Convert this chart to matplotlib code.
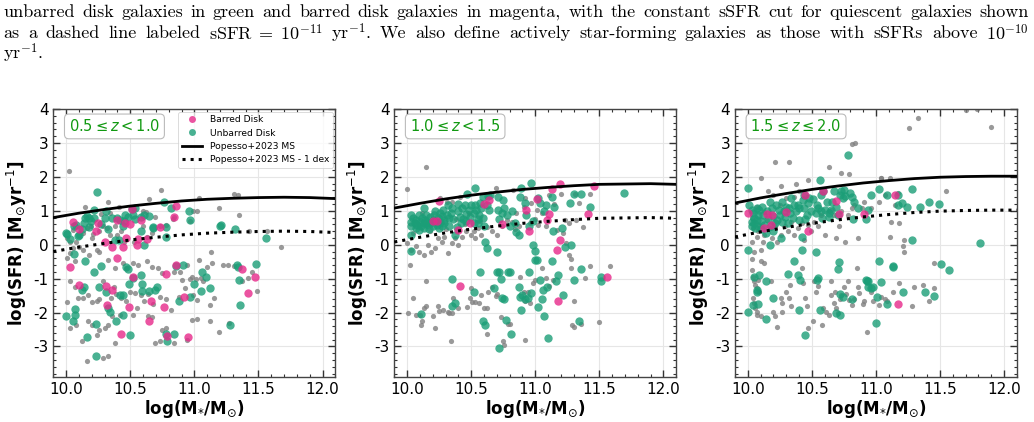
"""
Three-panel SFR vs stellar mass figure (barred / unbarred disks) with the
caption lines that sit above it in the paper.
"""

import matplotlib as mpl

mpl.use("Agg")

import matplotlib.pyplot as plt
from matplotlib.lines import Line2D
from matplotlib.ticker import MultipleLocator

# --- main-sequence curves (Popesso+2023) ----------------------------------
MS_MASS = [9.9, 10.1, 10.3, 10.5, 10.7, 10.9, 11.1, 11.3, 11.5, 11.7, 11.9, 12.1]
P1_MS = [0.80, 0.93, 1.04, 1.14, 1.22, 1.29, 1.34, 1.37, 1.39, 1.40, 1.39, 1.36]
P2_MS = [1.08, 1.22, 1.35, 1.46, 1.55, 1.63, 1.69, 1.74, 1.78, 1.79, 1.80, 1.78]
P3_MS = [1.23, 1.38, 1.51, 1.63, 1.73, 1.82, 1.89, 1.95, 1.99, 2.01, 2.02, 2.02]
MS_OFFSET = 1.0  # "MS - 1 dex"

Z_LABELS = [r"$0.5 \leq z < 1.0$", r"$1.0 \leq z < 1.5$", r"$1.5 \leq z \leq 2.0$"]

# --- panel 1: 0.5 <= z < 1.0 (log M*, log SFR) ----------------------------
P1_BAR = [
    (10.05, 0.66), (10.03, -0.67), (10.10, -1.18), (10.10, 0.45), (10.23, 0.40),
    (10.25, 0.63), (10.30, 0.08), (10.31, -1.23), (10.32, -1.77), (10.36, -0.08),
    (10.36, -1.33), (10.40, -0.38), (10.40, 0.73), (10.44, -0.06), (10.46, 0.63),
    (10.47, 0.21), (10.50, 0.60), (10.51, 1.05), (10.49, -1.85), (10.52, -0.94),
    (10.56, 0.16), (10.58, 0.73), (10.63, 0.16), (10.66, -1.65), (10.65, -2.26),
    (10.73, 0.53), (10.76, -1.85), (10.78, -0.87), (10.79, -2.70), (10.84, 0.82),
    (10.86, 1.14), (10.86, -0.61), (10.92, -1.55), (10.95, -2.73), (11.37, -0.72),
    (11.42, -1.41), (11.47, -0.94), (10.43, -2.63), (10.55, 0.00),
]
P1_UNB = [
    (10.24, 1.55), (10.00, 0.36), (10.01, 0.31), (10.03, 0.17), (10.06, 0.54),
    (10.08, 0.58), (10.09, 0.25), (10.10, 0.30), (10.12, 0.45), (10.14, 0.63),
    (10.15, 0.78), (10.16, 0.86), (10.18, 0.78), (10.18, 0.51), (10.19, 0.70),
    (10.22, 0.80), (10.22, 1.03), (10.27, 0.62), (10.30, 0.80), (10.31, 1.00),
    (10.33, 0.45), (10.36, 0.78), (10.38, 0.15), (10.40, 0.78), (10.41, 0.14),
    (10.42, 0.73), (10.44, 0.56), (10.45, 0.70), (10.46, 0.88), (10.48, 0.83),
    (10.51, 1.05), (10.52, 0.88), (10.54, 0.76), (10.54, 1.08), (10.58, 0.83),
    (10.58, 0.39), (10.61, 0.88), (10.61, -0.02), (10.65, 0.86), (10.68, 0.49),
    (10.68, 0.51), (10.76, 1.27), (10.78, 0.51), (10.78, 0.24), (10.82, 1.08),
    (10.96, 0.98), (10.97, 0.73), (11.20, 0.54), (11.21, 0.57), (11.32, 0.46),
    (11.56, 0.19), (10.06, -0.28), (10.15, -0.47),
    (10.00, -2.11), (10.05, -2.26), (10.07, -2.06), (10.07, -1.90), (10.12, -1.33),
    (10.14, -1.26), (10.16, -2.73), (10.22, -0.79), (10.23, -2.34), (10.23, -3.29),
    (10.26, -1.25), (10.27, -0.64), (10.31, -1.38), (10.33, -1.87), (10.34, -1.97),
    (10.39, -2.24), (10.42, -1.48), (10.44, -1.48), (10.44, -2.07), (10.47, -0.67),
    (10.48, -0.71), (10.49, -1.16), (10.50, -2.65), (10.52, -0.98), (10.58, -0.89),
    (10.59, -1.16), (10.59, -1.36), (10.65, -1.36), (10.69, -1.33), (10.71, -1.26),
    (10.78, -2.63), (10.79, -2.85), (10.84, -2.63), (10.86, -0.64), (10.91, -0.61),
    (10.88, -1.67), (10.97, -1.55), (11.00, -1.16), (11.05, -1.36), (11.06, -0.79),
    (11.09, -0.96), (11.12, -1.28), (11.28, -2.36), (11.33, -0.61), (11.34, -0.67),
    (11.35, -1.03), (11.36, -1.79), (11.48, -0.57),
]
P1_ALL = [
    (10.02, 2.17), (10.74, 1.62), (10.33, 1.25), (10.41, 1.12), (11.04, 1.37),
    (11.31, 1.49), (11.34, 1.47), (11.35, 0.88), (11.19, 1.08), (11.02, 0.98),
    (10.97, 0.70), (10.65, 1.35), (10.60, 1.00), (10.62, 0.96), (10.34, 0.93),
    (10.15, 1.12), (10.84, 0.83),
    (10.01, 0.21), (10.03, 0.09), (10.05, 0.44), (10.08, 0.09), (10.10, 0.29),
    (10.13, 0.36), (10.16, 0.49), (10.19, 0.54), (10.20, 0.19), (10.21, 0.31),
    (10.26, 0.39), (10.29, 0.54), (10.27, 0.90), (10.32, 0.49), (10.34, 0.29),
    (10.38, 0.54), (10.40, 0.29), (10.43, 0.39), (10.45, 0.09), (10.53, 0.09),
    (10.60, 0.54), (10.63, 0.24), (10.67, 0.34), (10.69, 0.83), (10.73, 0.54),
    (10.78, 0.58), (10.83, 0.76), (10.99, 0.98), (11.43, 0.41), (11.57, 0.39),
    (11.68, -0.07), (11.13, -0.20),
    (10.01, -0.40), (10.03, -0.25), (10.05, -0.10), (10.07, -0.47), (10.10, -0.08),
    (10.13, -0.15), (10.18, -0.30), (10.24, -0.15), (10.26, -0.20), (10.33, -0.45),
    (10.38, -0.69), (10.44, -0.54), (10.47, -0.69), (10.52, -0.54), (10.56, -0.59),
    (10.63, -0.49), (10.67, -0.67), (10.72, -0.69), (10.75, -0.84), (10.84, -0.79),
    (10.89, -0.79), (10.94, -0.59), (11.04, -0.45), (11.10, -0.67), (11.22, -0.59),
    (11.26, -0.59), (11.31, -0.64), (11.42, -0.97), (11.37, -1.08), (11.45, -0.79),
    (11.49, -1.36), (11.05, -0.99), (10.98, -0.94), (11.14, -0.54),
    (10.03, -1.08), (10.07, -1.26), (10.13, -1.57), (10.17, -1.48), (10.20, -1.69),
    (10.24, -1.65), (10.26, -1.59), (10.29, -1.08), (10.35, -1.57), (10.37, -1.26),
    (10.39, -1.46), (10.43, -1.57), (10.47, -1.65), (10.50, -1.38), (10.54, -1.43),
    (10.58, -1.48), (10.61, -1.67), (10.64, -1.46), (10.68, -1.75), (10.73, -1.53),
    (10.78, -1.59), (10.82, -1.92), (10.88, -1.53), (10.93, -1.28), (10.97, -1.00),
    (11.01, -1.00), (11.02, -1.62), (11.07, -1.08), (11.12, -1.77), (11.15, -1.57),
    (10.90, -1.03), (10.99, -1.48), (10.09, -1.57), (10.01, -1.69),
    (10.03, -2.46), (10.08, -2.36), (10.12, -2.85), (10.20, -2.36), (10.24, -2.65),
    (10.26, -2.51), (10.30, -2.46), (10.33, -2.36), (10.36, -2.11), (10.38, -2.90),
    (10.42, -2.06), (10.55, -1.87), (10.64, -2.11), (10.67, -2.14), (10.69, -2.90),
    (10.73, -2.85), (10.75, -2.51), (10.84, -2.90), (10.94, -2.80), (10.98, -2.21),
    (11.02, -2.18), (11.12, -2.26), (11.19, -2.56), (11.27, -2.31), (10.16, -3.44),
    (10.29, -3.34), (10.33, -3.29), (10.17, -2.26), (10.52, -2.06), (10.78, -2.46),
]

# --- panel 2: 1.0 <= z < 1.5 ----------------------------------------------
P2_BAR = [
    (10.25, 1.30), (10.23, 0.70), (10.20, 0.69), (10.40, 0.44), (10.49, 0.63),
    (10.60, 1.19), (10.64, 1.32), (10.74, 0.61), (10.93, 1.02), (10.95, 0.41),
    (11.01, 1.34), (11.09, 0.73), (11.11, 0.92), (11.13, 1.64), (11.19, 1.78),
    (11.19, 0.14), (11.17, -0.16), (11.41, 0.92), (11.46, 1.73), (10.41, -1.23),
    (11.18, -1.67), (11.56, -0.94),
]
P2_UNB = [
    (10.03, 0.88), (10.03, 0.68), (10.03, 0.54), (10.03, 0.29), (10.05, 0.78),
    (10.06, 0.63), (10.07, 0.49), (10.07, 0.73), (10.08, 0.58), (10.09, 0.88),
    (10.09, 0.44), (10.10, 0.68), (10.11, 0.54), (10.12, 0.78), (10.13, 0.63),
    (10.13, 1.08), (10.13, 0.49), (10.14, 0.73), (10.15, 0.88), (10.16, 0.58),
    (10.16, 0.68), (10.17, 0.47), (10.18, 0.83), (10.18, 0.63), (10.20, 0.73),
    (10.20, 0.54), (10.21, 0.88), (10.22, 0.68), (10.22, 0.98), (10.23, 0.58),
    (10.24, 0.78), (10.25, 0.49), (10.26, 0.93), (10.26, 0.68), (10.27, 0.86),
    (10.27, 0.54), (10.28, 1.03), (10.29, 0.73), (10.29, 0.63), (10.31, 0.88),
    (10.32, 1.17), (10.33, 0.78), (10.33, 0.56), (10.34, 0.93), (10.35, 1.08),
    (10.36, 0.76), (10.37, 0.29), (10.39, 0.51), (10.40, 0.98), (10.40, 1.19),
    (10.41, 0.83), (10.42, 0.63), (10.43, 1.08), (10.44, 0.76), (10.45, 1.17),
    (10.46, 0.90), (10.46, 0.70), (10.47, 1.49), (10.48, 1.03), (10.49, 0.83),
    (10.50, 1.17), (10.52, 0.63), (10.52, 0.93), (10.53, 1.17), (10.53, 1.66),
    (10.54, 1.03), (10.55, 0.76), (10.55, 0.63), (10.56, 0.88), (10.57, 1.22),
    (10.58, 1.08), (10.59, 1.42), (10.59, 0.80), (10.60, 0.56), (10.62, 1.17),
    (10.63, 1.45), (10.64, 1.03), (10.65, 1.47), (10.61, 0.09), (10.62, -0.10),
    (10.70, -0.20), (10.71, 1.42), (10.71, 1.03), (10.72, 0.76), (10.74, 0.93),
    (10.75, 1.32), (10.76, 1.08), (10.78, 0.88), (10.80, 0.54), (10.82, 0.98),
    (10.84, 0.63), (10.85, 0.37), (10.87, 0.29), (10.88, 1.42), (10.89, 1.66),
    (10.92, 1.22), (10.93, 0.88), (10.95, 0.54), (10.97, 1.81), (10.98, 0.70),
    (11.02, 1.37), (11.04, 1.22), (11.07, 0.98), (11.08, 1.17), (11.13, 1.42),
    (11.14, 0.39), (11.15, 1.12), (11.21, 0.49), (11.27, 1.22), (11.28, 0.00),
    (11.30, 1.49), (11.36, 1.50), (11.43, 1.10), (11.69, 1.52), (10.03, -0.18),
    (10.11, -2.05), (10.35, -1.01), (10.37, -1.72), (10.35, -1.82), (10.52, -1.38),
    (10.57, -0.79), (10.59, -2.26), (10.61, -2.36), (10.68, -1.28), (10.70, -0.79),
    (10.72, -0.81), (10.73, -1.00), (10.74, -1.56), (10.76, -1.59), (10.77, -2.21),
    (10.79, -0.79), (10.80, -0.81), (10.81, -2.63), (10.72, -3.03), (10.87, -1.26),
    (10.88, -1.53), (10.89, -1.92), (10.90, -1.48), (10.92, -1.59), (10.94, -1.57),
    (10.95, -0.81), (10.97, -1.43), (10.98, 0.00), (11.00, -0.18), (11.00, -0.45),
    (11.01, -0.45), (11.02, -1.85), (11.04, -1.03), (11.05, -1.59), (11.06, -1.33),
    (11.07, -2.11), (11.09, -1.26), (11.10, -2.75), (11.13, -0.49), (11.16, -1.08),
    (11.18, -0.89), (11.22, -1.48), (11.23, -0.08), (11.30, -1.03), (11.34, -2.26),
    (11.36, -0.71), (11.51, -0.94), (11.51, -1.06),
]
P2_ALL = [
    (10.15, 2.30), (10.00, 1.64), (10.02, -0.61), (10.05, -1.57), (10.01, -2.00),
    (10.07, -2.06), (10.10, -2.06), (10.12, -2.26), (10.11, -2.36), (10.13, -1.87),
    (10.15, -1.82), (10.20, -2.11), (10.22, -2.46), (10.24, -1.82), (10.25, -1.95),
    (10.28, -1.92), (10.32, -1.97), (10.33, -2.02), (10.34, -2.83), (10.35, -2.02),
    (10.36, -1.56), (10.40, -1.87), (10.47, -1.85), (10.49, -1.57), (10.50, -1.28),
    (10.51, -1.69), (10.53, -1.69), (10.56, -1.72), (10.58, -1.48), (10.60, -1.87),
    (10.62, -1.87), (10.62, -2.63), (10.63, -1.38), (10.66, -1.26), (10.69, -1.50),
    (10.70, -1.46), (10.73, -2.14), (10.75, -2.83), (10.76, -2.95), (10.79, -2.34),
    (10.80, -2.34), (10.88, -0.94), (10.91, -1.38), (10.92, -1.65), (10.92, -2.80),
    (10.94, -1.38), (10.96, -1.72), (10.98, -1.13), (11.00, -1.03), (11.05, -0.69),
    (11.08, -0.97), (11.11, -1.23), (11.14, -1.03), (11.22, 0.34), (11.24, 0.04),
    (11.26, -0.30), (11.28, -0.42), (11.28, -0.69), (11.30, -1.67), (11.29, -2.36),
    (11.30, -2.44), (11.36, -2.34), (11.39, -0.99), (11.43, -0.62), (11.50, -2.28),
    (11.58, -0.64), (10.15, -1.06),
    (10.00, 0.04), (10.03, -0.15), (10.07, -0.05), (10.09, -0.20), (10.13, -0.30),
    (10.16, 0.00), (10.19, -0.20), (10.22, -0.10), (10.24, 0.19), (10.27, 0.09),
    (10.29, 0.24), (10.32, -0.25), (10.35, 0.04), (10.37, 0.19), (10.40, 0.00),
    (10.43, 0.24), (10.46, 0.39), (10.50, 0.29), (10.53, 0.19), (10.55, 0.49),
    (10.58, 0.29), (10.62, 0.51), (10.66, 0.39), (10.70, 0.29), (10.74, 0.56),
    (10.78, 0.73), (10.82, 0.68), (10.84, 0.47), (10.87, 0.54), (10.91, 1.12),
    (10.92, 1.37), (10.97, 1.22), (11.01, 1.03), (11.05, 0.93), (11.08, 0.54),
    (11.11, 1.47), (11.15, 1.20), (11.17, 0.44), (11.20, 1.49), (11.23, 0.73),
    (11.26, 0.63), (11.31, 1.49), (11.32, 0.73), (11.34, 1.22), (11.37, 0.51),
    (11.43, 1.49), (10.26, 1.37), (10.35, 1.25), (10.41, 1.42), (10.31, 1.27),
    (10.96, 0.63), (11.00, 0.76), (11.02, 0.58), (10.83, 1.62), (10.85, 0.93),
    (10.69, 1.68), (10.05, 0.35), (10.12, 0.95), (10.18, 0.40), (10.25, 0.70),
    (10.30, 0.45), (10.38, 0.75), (10.45, 0.60), (10.48, 0.95), (10.52, 0.40),
    (10.57, 0.70),
]

# --- panel 3: 1.5 <= z <= 2.0 ---------------------------------------------
P3_BAR = [
    (10.00, 0.95), (10.15, 0.90), (10.13, 0.49), (10.18, 0.58), (10.19, 0.88),
    (10.30, 0.96), (10.47, 0.41), (10.45, 1.46), (10.59, 1.58), (10.69, 1.29),
    (10.71, 0.92), (10.91, 0.91), (11.15, 1.46), (11.17, -1.75),
]
P3_UNB = [
    (10.00, 1.68), (10.00, -0.15), (10.00, -1.97), (10.01, 1.17), (10.03, 1.03),
    (10.03, 0.68), (10.03, 0.54), (10.04, 0.93), (10.05, 0.78), (10.05, 0.63),
    (10.06, 0.49), (10.07, 1.08), (10.07, 0.73), (10.08, 0.88), (10.08, 0.56),
    (10.09, 1.03), (10.10, 0.70), (10.10, 0.47), (10.11, 1.12), (10.12, 0.88),
    (10.13, 0.58), (10.14, 0.34), (10.15, 0.98), (10.16, 0.76), (10.17, 1.27),
    (10.18, 0.54), (10.19, 1.08), (10.20, 0.39), (10.20, 0.86), (10.21, 0.63),
    (10.22, 1.17), (10.23, 0.73), (10.24, 1.03), (10.25, 0.88), (10.26, 0.19),
    (10.27, 0.68), (10.27, 1.27), (10.28, 0.98), (10.29, 0.83), (10.30, 1.12),
    (10.31, 0.63), (10.32, 1.08), (10.33, 0.93), (10.34, 1.37), (10.35, 0.78),
    (10.36, 1.17), (10.38, 0.98), (10.39, 1.17), (10.40, 0.73), (10.40, 1.08),
    (10.42, 0.24), (10.43, 1.32), (10.44, 1.08), (10.44, 1.47), (10.45, 0.76),
    (10.46, 0.88), (10.47, 1.22), (10.48, 1.37), (10.49, 1.00), (10.51, 1.35),
    (10.53, 0.93), (10.54, 1.17), (10.55, 1.08), (10.56, 1.91), (10.57, 1.47),
    (10.57, 0.98), (10.58, 0.78), (10.59, 1.57), (10.60, 1.03), (10.62, 1.27),
    (10.63, 0.93), (10.63, 0.83), (10.65, 1.03), (10.66, 1.27), (10.67, 1.57),
    (10.69, 1.12), (10.70, 0.88), (10.72, 1.47), (10.73, 1.59), (10.74, 1.37),
    (10.75, 1.62), (10.76, 1.45), (10.78, 2.65), (10.80, 1.52), (10.81, 1.42),
    (10.82, 0.76), (10.83, 1.27), (10.86, 1.08), (10.94, 1.03), (10.92, 0.76),
    (10.96, 1.47), (11.02, 1.64), (11.09, 1.47), (11.17, 1.47), (11.17, 1.17),
    (11.20, 1.22), (11.24, 1.12), (11.28, 1.64), (11.28, 0.14), (11.34, 1.12),
    (11.41, 1.25), (11.49, 1.19), (11.81, 0.04), (11.57, -0.74), (11.51, -0.57),
    (10.04, -1.77), (10.05, -0.94), (10.07, -1.33), (10.07, -1.40), (10.08, -1.75),
    (10.09, -0.89), (10.14, -2.18), (10.14, -1.06), (10.20, -1.57), (10.17, 0.00),
    (10.31, -0.87), (10.36, -0.48), (10.39, -0.89), (10.40, -1.92), (10.41, -1.04),
    (10.45, -2.65), (10.42, -0.16), (10.53, -0.20), (10.55, -0.99), (10.56, -1.92),
    (10.54, -1.04), (10.70, -0.71), (10.71, -0.51), (10.72, -1.46), (10.69, -2.02),
    (10.72, -2.06), (10.74, -1.53), (10.81, -1.59), (10.92, -1.03), (10.93, -1.06),
    (10.94, -1.26), (10.94, -1.08), (10.96, -1.28), (10.98, -1.26), (11.00, -2.31),
    (11.01, -1.53), (11.02, -0.49), (11.04, -1.10), (11.09, -1.75), (11.13, -0.63),
    (11.13, -0.66), (11.21, -1.38), (11.38, -1.40), (11.45, -1.51),
]
P3_ALL = [
    (11.70, 3.97), (11.79, 3.99), (11.33, 3.74), (11.26, 3.45), (11.90, 3.48),
    (10.65, 3.38), (10.32, 3.23), (10.81, 2.96), (10.84, 3.00), (10.21, 2.43),
    (10.32, 2.43), (10.63, 2.30), (10.73, 2.10), (10.79, 2.08), (10.10, 1.96),
    (11.04, 1.97), (10.26, 1.74), (10.38, 1.78), (10.16, 1.59), (10.47, 1.90),
    (11.55, 1.59), (11.11, 1.96), (11.04, 1.96),
    (10.03, 0.09), (10.04, 0.49), (10.05, 0.68), (10.07, 0.24), (10.08, 0.39),
    (10.09, 0.54), (10.10, -0.15), (10.12, 0.09), (10.13, 0.29), (10.15, 0.73),
    (10.17, 0.49), (10.19, 0.19), (10.21, 0.54), (10.23, 0.09), (10.26, 0.29),
    (10.29, 0.54), (10.31, 0.39), (10.34, 0.68), (10.36, 0.29), (10.39, 0.49),
    (10.42, 0.63), (10.44, 0.14), (10.47, 0.58), (10.49, 0.39), (10.52, 0.68),
    (10.55, 0.54), (10.57, 0.88), (10.60, 0.29), (10.63, 0.98), (10.65, 1.03),
    (10.67, 0.88), (10.69, 0.19), (10.71, 0.54), (10.73, 0.98), (10.76, 0.09),
    (10.78, 0.88), (10.81, 1.08), (10.83, 1.17), (10.86, 0.19), (10.89, 1.08),
    (10.91, 1.27), (10.96, 1.08), (11.02, 1.27), (11.07, 1.47), (11.11, 0.24),
    (11.12, 0.68), (11.15, 1.17), (11.17, 1.52), (11.18, 0.63), (11.21, -0.05),
    (11.22, 0.14), (11.22, -0.20), (10.13, 0.96), (10.25, 1.17), (10.30, 1.37),
    (10.36, 1.42), (10.40, 1.57), (10.20, 1.47), (10.03, 0.78), (10.07, 1.12),
    (10.03, -0.74), (10.04, -0.94), (10.05, -1.08), (10.06, -1.18), (10.07, -1.28),
    (10.08, -1.03), (10.09, -1.38), (10.04, -1.57), (10.05, -1.72), (10.06, -1.87),
    (10.07, -1.97), (10.10, -2.11), (10.07, -2.06), (10.03, -0.42), (10.05, -0.20),
    (10.10, -0.49), (10.13, -0.54), (10.18, -1.08), (10.20, -1.97), (10.21, -2.11),
    (10.27, -1.72), (10.27, -1.97), (10.30, -1.38), (10.32, -1.56), (10.34, -1.82),
    (10.42, -0.69), (10.43, -1.13), (10.45, -1.57), (10.46, -1.82), (10.47, -2.46),
    (10.51, -2.26), (10.52, -1.08), (10.53, -1.38), (10.55, -1.23), (10.58, -2.36),
    (10.59, -1.87), (10.61, -1.97), (10.63, -2.06), (10.65, -1.48), (10.65, -1.08),
    (10.67, -1.72), (10.68, -1.38), (10.69, -1.87), (10.70, -2.02), (10.72, -1.59),
    (10.73, -1.48), (10.75, -1.26), (10.77, -1.46), (10.78, -1.08), (10.79, -1.62),
    (10.81, -1.77), (10.83, -1.59), (10.85, -0.69), (10.86, -1.26), (10.87, -1.43),
    (10.90, -1.75), (10.91, -1.65), (10.93, -2.56), (10.96, -1.38), (10.98, -1.67),
    (11.02, -1.77), (11.04, -1.53), (11.07, -1.59), (11.09, -1.67), (11.13, -1.38),
    (11.18, -1.13), (11.28, -1.82), (11.30, -1.26), (11.41, -1.65), (11.45, -1.28),
    (11.45, -0.54), (11.37, -1.18), (10.23, -2.44), (10.33, -1.18), (10.26, -1.57),
]

CAPTION = [
    "unbarred disk galaxies in green and barred disk galaxies in magenta, with the "
    "constant sSFR cut for quiescent galaxies shown",
    r"as a dashed line labeled $\mathrm{sSFR}\;=\;10^{-11}$ yr$^{-1}$. We also define "
    r"actively star-forming galaxies as those with sSFRs above $10^{-10}$",
    r"yr$^{-1}$.",
]
CAPTION_JUSTIFY = [True, True, False]

C_BAR = "#e7298a"
C_UNB = "#1b9e77"
C_ALL = "gray"


def _caption_line(fig, renderer, text, y, justify, x0=0.003, x1=0.995):
    """Place one caption line; justified lines get stretched word spacing."""
    kw = dict(va="center", ha="left", fontsize=13,
              family=["cmr10", "DejaVu Serif"], math_fontfamily="cm")
    if not justify:
        fig.text(x0, y, text, **kw)
        return
    words = text.split(" ")
    arts = [fig.text(x0, y, w, **kw) for w in words]
    fw = fig.bbox.width
    widths = [a.get_window_extent(renderer).width / fw for a in arts]
    gap = (x1 - x0 - sum(widths)) / (len(words) - 1)
    x = x0
    for a, w in zip(arts, widths):
        a.set_x(x)
        x += w + gap


def _draw_panel(ax, all_pts, unb_pts, bar_pts, ms, zlabel, legend=False):
    ax.scatter(*zip(*all_pts), s=14, color=C_ALL, alpha=0.8, lw=0, zorder=2)
    ax.scatter(*zip(*unb_pts), s=36, color=C_UNB, alpha=0.8, lw=0, zorder=3)
    ax.scatter(*zip(*bar_pts), s=36, color=C_BAR, alpha=0.8, lw=0, zorder=3)
    ax.plot(MS_MASS, ms, color="black", lw=2.0, zorder=4)
    ax.plot(MS_MASS, [v - MS_OFFSET for v in ms], color="black", lw=2.2,
            ls=":", zorder=4)

    ax.set_xlim(9.9, 12.1)
    ax.set_ylim(-3.9, 4.0)
    ax.xaxis.set_major_locator(MultipleLocator(0.5))
    ax.xaxis.set_minor_locator(MultipleLocator(0.1))
    ax.yaxis.set_major_locator(MultipleLocator(1))
    ax.yaxis.set_minor_locator(MultipleLocator(0.2))
    ax.tick_params(which="both", direction="in", top=True, right=True,
                   colors="#333333", labelcolor="black")
    ax.tick_params(which="major", length=5, width=1.0, labelsize=11)
    ax.tick_params(which="minor", length=2.5, width=0.8)
    ax.grid(True, which="major", color="#e6e6e6", lw=0.8)
    ax.set_axisbelow(True)
    for sp in ax.spines.values():
        sp.set_color("#444444")
        sp.set_linewidth(1.0)

    ax.set_xlabel(r"log(M$_{*}$/M$_{\odot}$)", fontsize=12, fontweight="bold",
                  labelpad=1)
    ax.set_ylabel(r"log(SFR) [M$_{\odot}$yr$^{-1}$]", fontsize=12,
                  fontweight="bold", labelpad=3)
    ax.text(0.055, 0.965, zlabel, transform=ax.transAxes, ha="left", va="top",
            fontsize=10.5, color="#119911", zorder=6,
            bbox=dict(boxstyle="round,pad=0.3", facecolor="white",
                      edgecolor="#bbbbbb", linewidth=0.8))

    if legend:
        handles = [
            Line2D([], [], ls="", marker="o", ms=5, color=C_BAR, alpha=0.8,
                   mec="none", label="Barred Disk"),
            Line2D([], [], ls="", marker="o", ms=5, color=C_UNB, alpha=0.8,
                   mec="none", label="Unbarred Disk"),
            Line2D([], [], color="black", lw=2.0, label="Popesso+2023 MS"),
            Line2D([], [], color="black", lw=2.2, ls=":",
                   label="Popesso+2023 MS - 1 dex"),
        ]
        leg = ax.legend(handles=handles, loc="upper right", fontsize=6.6,
                        frameon=True, borderaxespad=0.3, handlelength=2.2,
                        labelspacing=0.45, borderpad=0.4)
        leg.get_frame().set_edgecolor("#cccccc")
        leg.get_frame().set_linewidth(0.6)
        leg.set_zorder(7)


def main():
    mpl.rcParams.update({
        "font.family": "DejaVu Sans",
        "mathtext.fontset": "dejavusans",
        "axes.unicode_minus": False,
    })
    fig = plt.figure(figsize=(10.34, 4.22), dpi=100)
    renderer = fig.canvas.get_renderer()

    line_y = [0.970, 0.922, 0.875]
    for txt, y, just in zip(CAPTION, line_y, CAPTION_JUSTIFY):
        _caption_line(fig, renderer, txt, y, just)

    panels = [
        (P1_ALL, P1_UNB, P1_BAR, P1_MS),
        (P2_ALL, P2_UNB, P2_BAR, P2_MS),
        (P3_ALL, P3_UNB, P3_BAR, P3_MS),
    ]
    lefts = [0.0516, 0.3813, 0.7108]
    for i, (left, data) in enumerate(zip(lefts, panels)):
        ax = fig.add_axes([left, 0.1066, 0.2727, 0.635])
        _draw_panel(ax, *data, Z_LABELS[i], legend=(i == 0))

    fig.savefig("out.png", dpi=100, facecolor="white")
    plt.close(fig)


if __name__ == "__main__":
    main()
